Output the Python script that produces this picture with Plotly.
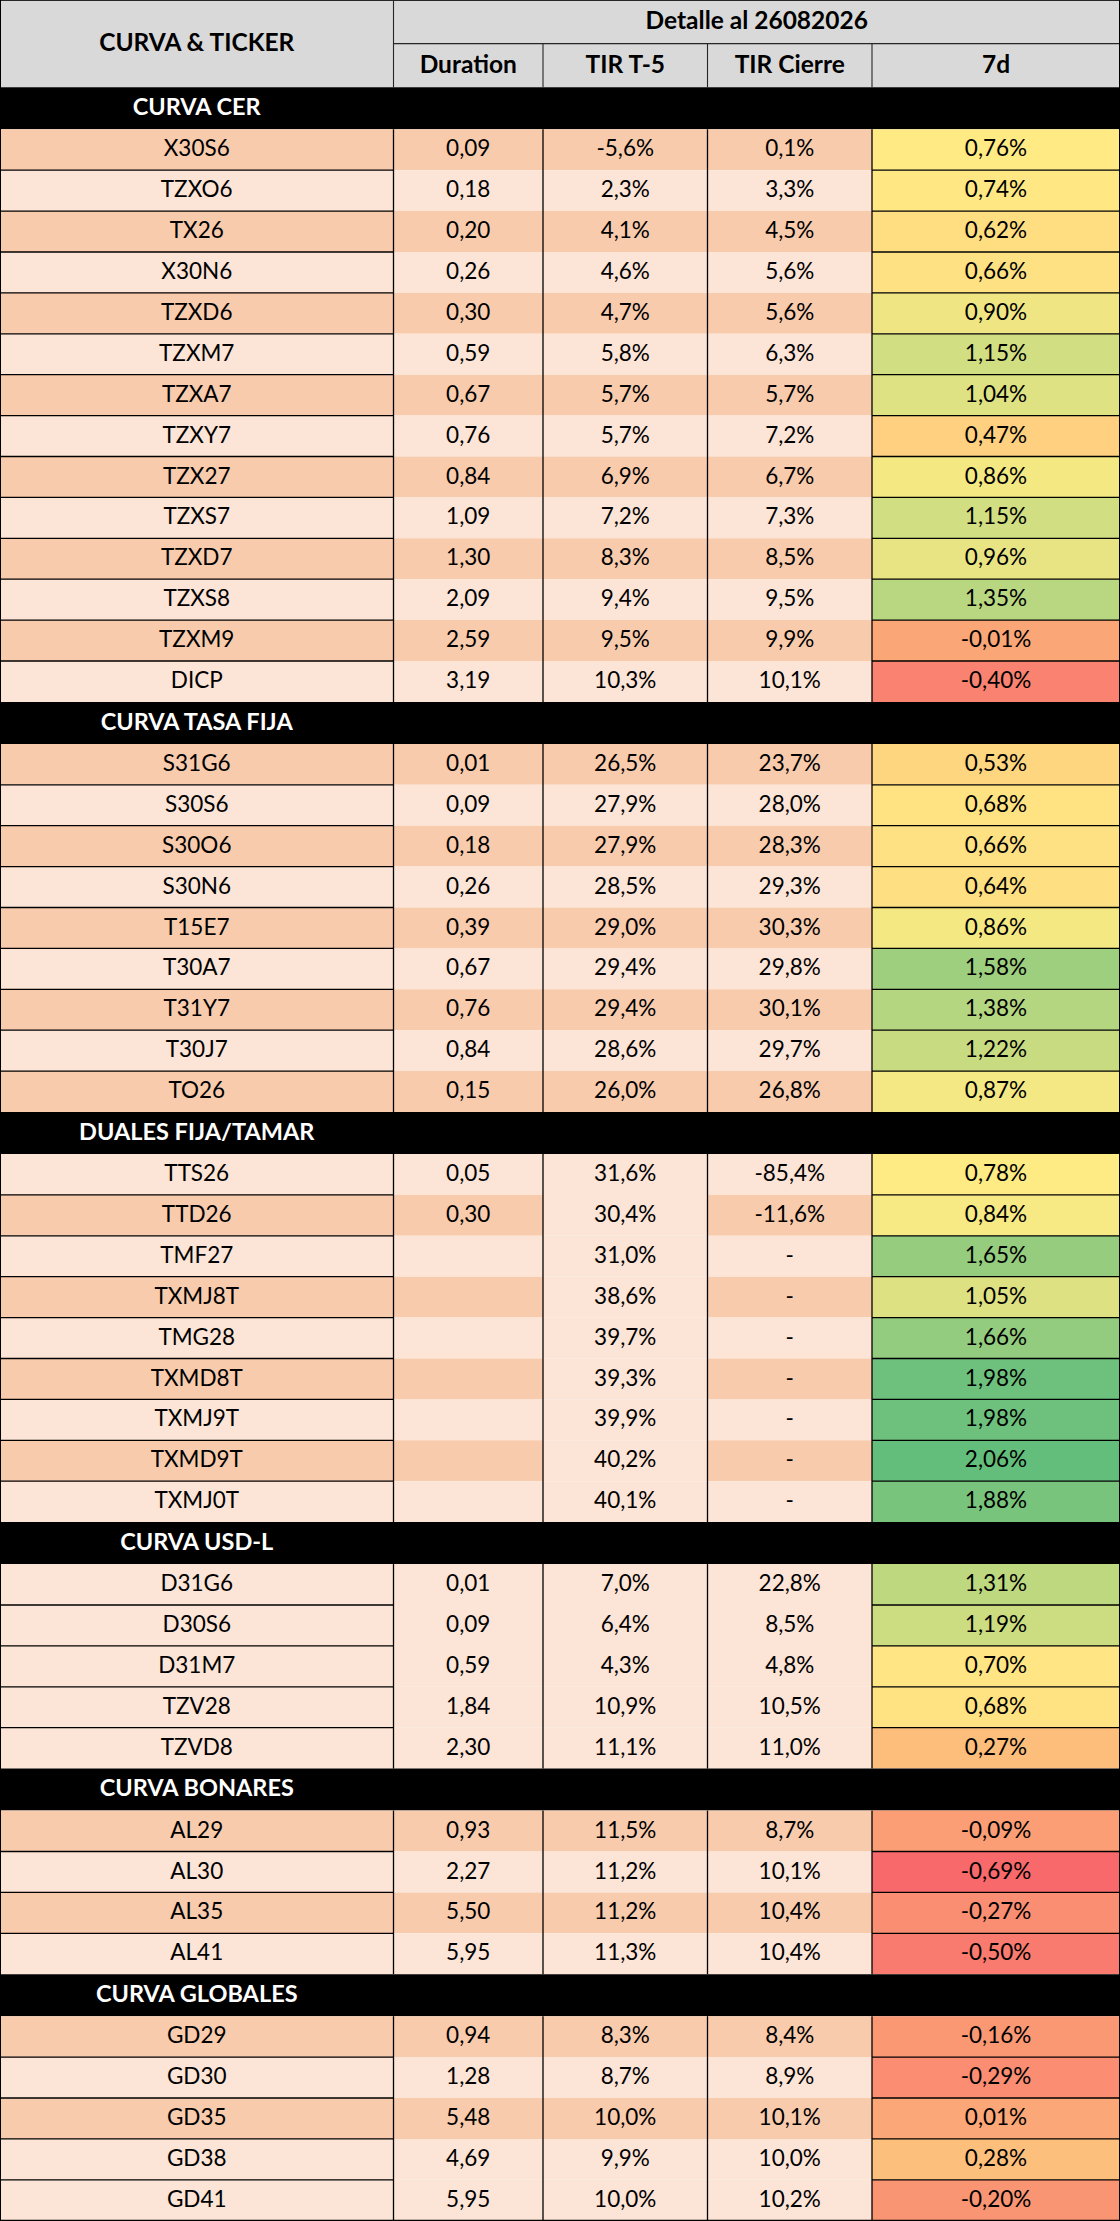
import numpy as np
import plotly.graph_objects as go
from plotly.colors import sample_colorscale

# ==========================================
# 1. DATA (as read from the sheet)
# ==========================================
DATE_LABEL = "26082026"
COLUMNS = ["Duration", "TIR T-5", "TIR Cierre", "7d"]

SECTIONS = ["CURVA CER", "CURVA TASA FIJA", "DUALES FIJA/TAMAR",
            "CURVA USD-L", "CURVA BONARES", "CURVA GLOBALES"]

CER_TICKER = ["X30S6", "TZXO6", "TX26", "X30N6", "TZXD6", "TZXM7", "TZXA7",
              "TZXY7", "TZX27", "TZXS7", "TZXD7", "TZXS8", "TZXM9", "DICP"]
CER_DUR = [0.09, 0.18, 0.20, 0.26, 0.30, 0.59, 0.67, 0.76, 0.84, 1.09, 1.30, 2.09, 2.59, 3.19]
CER_T5 = [-5.6, 2.3, 4.1, 4.6, 4.7, 5.8, 5.7, 5.7, 6.9, 7.2, 8.3, 9.4, 9.5, 10.3]
CER_CIERRE = [0.1, 3.3, 4.5, 5.6, 5.6, 6.3, 5.7, 7.2, 6.7, 7.3, 8.5, 9.5, 9.9, 10.1]
CER_7D = [0.76, 0.74, 0.62, 0.66, 0.90, 1.15, 1.04, 0.47, 0.86, 1.15, 0.96, 1.35, -0.01, -0.40]

TF_TICKER = ["S31G6", "S30S6", "S30O6", "S30N6", "T15E7", "T30A7", "T31Y7", "T30J7", "TO26"]
TF_DUR = [0.01, 0.09, 0.18, 0.26, 0.39, 0.67, 0.76, 0.84, 0.15]
TF_T5 = [26.5, 27.9, 27.9, 28.5, 29.0, 29.4, 29.4, 28.6, 26.0]
TF_CIERRE = [23.7, 28.0, 28.3, 29.3, 30.3, 29.8, 30.1, 29.7, 26.8]
TF_7D = [0.53, 0.68, 0.66, 0.64, 0.86, 1.58, 1.38, 1.22, 0.87]

DU_TICKER = ["TTS26", "TTD26", "TMF27", "TXMJ8T", "TMG28", "TXMD8T", "TXMJ9T", "TXMD9T", "TXMJ0T"]
DU_DUR = [0.05, 0.30, None, None, None, None, None, None, None]
DU_T5 = [31.6, 30.4, 31.0, 38.6, 39.7, 39.3, 39.9, 40.2, 40.1]
DU_CIERRE = [-85.4, -11.6, None, None, None, None, None, None, None]
DU_7D = [0.78, 0.84, 1.65, 1.05, 1.66, 1.98, 1.98, 2.06, 1.88]

USD_TICKER = ["D31G6", "D30S6", "D31M7", "TZV28", "TZVD8"]
USD_DUR = [0.01, 0.09, 0.59, 1.84, 2.30]
USD_T5 = [7.0, 6.4, 4.3, 10.9, 11.1]
USD_CIERRE = [22.8, 8.5, 4.8, 10.5, 11.0]
USD_7D = [1.31, 1.19, 0.70, 0.68, 0.27]

BON_TICKER = ["AL29", "AL30", "AL35", "AL41"]
BON_DUR = [0.93, 2.27, 5.50, 5.95]
BON_T5 = [11.5, 11.2, 11.2, 11.3]
BON_CIERRE = [8.7, 10.1, 10.4, 10.4]
BON_7D = [-0.09, -0.69, -0.27, -0.50]

GLO_TICKER = ["GD29", "GD30", "GD35", "GD38", "GD41"]
GLO_DUR = [0.94, 1.28, 5.48, 4.69, 5.95]
GLO_T5 = [8.3, 8.7, 10.0, 9.9, 10.0]
GLO_CIERRE = [8.4, 8.9, 10.1, 10.0, 10.2]
GLO_7D = [-0.16, -0.29, 0.01, 0.28, -0.20]

SECTION_DATA = [
    (CER_TICKER, CER_DUR, CER_T5, CER_CIERRE, CER_7D),
    (TF_TICKER, TF_DUR, TF_T5, TF_CIERRE, TF_7D),
    (DU_TICKER, DU_DUR, DU_T5, DU_CIERRE, DU_7D),
    (USD_TICKER, USD_DUR, USD_T5, USD_CIERRE, USD_7D),
    (BON_TICKER, BON_DUR, BON_T5, BON_CIERRE, BON_7D),
    (GLO_TICKER, GLO_DUR, GLO_T5, GLO_CIERRE, GLO_7D),
]

# ==========================================
# 2. STYLE
# ==========================================
DARK = "#F8CBAD"
LIGHT = "#FCE4D6"
HEAD_BG = "#D9D9D9"
HEAD_LINE = "#262626"
FONT = "Lato, Carlito, Calibri, sans-serif"
SIZE_CELL = 22.5
SIZE_HEAD = 24.5
SIZE_SECTION = 23.5

# row shading per section (D = dark peach, L = light peach)
SHADE = ["DLDLDLDLDLDLDL", "DLDLDLDLD", "LDLDLDLDL", "LLLLL", "DLDL", "DLDLL"]
ALL_LIGHT_T5 = [False, False, True, False, False, False]

COL_EDGES = [0, 393.5, 543, 707.5, 872, 1120]
W, H = 1120, 2221
HEADER_H = 43.65
SECTION_H = 42.0
ROW_H = 40.9

# 3-colour scale for the 7d column (min / 50th percentile / max)
SCALE = [[0, "#F8696B"], [0.5, "#FFEB84"], [1, "#63BE7B"]]
all_7d = np.concatenate([np.array(s[4], dtype=float) for s in SECTION_DATA])
v_min, v_mid, v_max = all_7d.min(), np.median(all_7d), all_7d.max()


def scale_pos(v):
    if v <= v_mid:
        return 0.5 * (v - v_min) / (v_mid - v_min)
    return 0.5 + 0.5 * (v - v_mid) / (v_max - v_mid)


def fmt(v, dec, pct=False, empty=""):
    if v is None:
        return empty
    s = f"{v:.{dec}f}".replace(".", ",")
    return s + "%" if pct else s


shapes = []
tx, ty, tt, tc, ts = [], [], [], [], []


def rect(x0, x1, y0, y1, color):
    shapes.append(dict(type="rect", xref="x", yref="y", x0=x0, x1=x1, y0=y0, y1=y1,
                       fillcolor=color, line=dict(width=0), layer="below"))


def line(x0, x1, y0, y1, color="black", width=1.3):
    shapes.append(dict(type="line", xref="x", yref="y", x0=x0, x1=x1, y0=y0, y1=y1,
                       line=dict(color=color, width=width), layer="below"))


def text(x, y, s, color="black", size=SIZE_CELL):
    tx.append(x)
    ty.append(y + 1)
    tt.append(s)
    tc.append(color)
    ts.append(size)


centers = [(COL_EDGES[i] + COL_EDGES[i + 1]) / 2 for i in range(5)]

# ==========================================
# 3. HEADER
# ==========================================
rect(0, W, 0, 2 * HEADER_H, HEAD_BG)
text(centers[0], HEADER_H, "<b>CURVA & TICKER</b>", size=SIZE_HEAD)
text((COL_EDGES[1] + W) / 2, HEADER_H / 2, f"<b>Detalle al {DATE_LABEL}</b>", size=SIZE_HEAD)
for i, c in enumerate(COLUMNS):
    text(centers[i + 1], HEADER_H * 1.5, f"<b>{c}</b>", size=SIZE_HEAD)
line(COL_EDGES[1], W, HEADER_H, HEADER_H, HEAD_LINE, 1.1)
line(COL_EDGES[1], COL_EDGES[1], 0, 2 * HEADER_H, HEAD_LINE, 1.1)
for xe in COL_EDGES[2:5]:
    line(xe, xe, HEADER_H, 2 * HEADER_H, HEAD_LINE, 1.1)
line(0, W, 0, 0, HEAD_LINE, 2)

# ==========================================
# 4. BODY
# ==========================================
y = 2 * HEADER_H
for s_idx, name in enumerate(SECTIONS):
    rect(0, W, y, y + SECTION_H, "black")
    text(centers[0], y + SECTION_H / 2, f"<b>{name}</b>", "white", SIZE_SECTION)
    y += SECTION_H
    tick, dur, t5, cie, d7 = SECTION_DATA[s_idx]
    top = y
    for r in range(len(tick)):
        base = DARK if SHADE[s_idx][r] == "D" else LIGHT
        fills = [base, base, LIGHT if ALL_LIGHT_T5[s_idx] else base, base,
                 sample_colorscale(SCALE, [scale_pos(d7[r])])[0]]
        for c in range(5):
            rect(COL_EDGES[c], COL_EDGES[c + 1], y, y + ROW_H, fills[c])
        cy = y + ROW_H / 2
        text(centers[0], cy, tick[r])
        text(centers[1], cy, fmt(dur[r], 2))
        text(centers[2], cy, fmt(t5[r], 1, True))
        text(centers[3], cy, fmt(cie[r], 1, True, "-"))
        text(centers[4], cy, fmt(d7[r], 2, True))
        if r > 0:
            line(0, COL_EDGES[1], y, y)
            line(COL_EDGES[4], W, y, y)
        y += ROW_H
    for xe in COL_EDGES:
        line(xe, xe, top, y)

line(0, W, y, y, "black", 2)
line(0, 0, 0, y, "black", 2)
line(W, W, 0, y, "black", 2)

fig = go.Figure()
fig.add_trace(go.Scatter(
    x=tx, y=ty, text=tt, mode="text",
    textposition="middle center",
    textfont=dict(family=FONT, size=ts, color=tc),
    hoverinfo="skip", showlegend=False,
))

fig.update_layout(
    width=W, height=H,
    margin=dict(l=0, r=0, t=0, b=0),
    paper_bgcolor="white", plot_bgcolor="white",
    shapes=shapes,
    xaxis=dict(range=[0, W], visible=False, fixedrange=True),
    yaxis=dict(range=[H, 0], visible=False, fixedrange=True),
)

fig.write_html("out.html", config={"displayModeBar": False},
               post_script="document.body.style.margin='0';")
